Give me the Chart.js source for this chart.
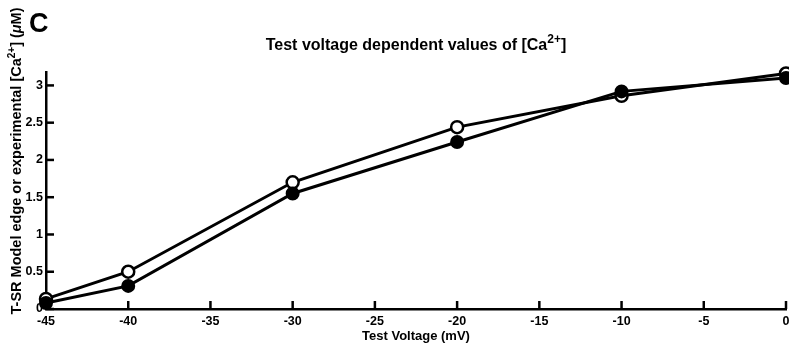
<!DOCTYPE html>
<html>
<head>
<meta charset="utf-8">
<script src="https://cdn.jsdelivr.net/npm/chart.js@4/dist/chart.umd.min.js"></script>
<style>
html,body{margin:0;padding:0;background:#fff;}
#wrap{width:789px;height:346px;position:relative;}
</style>
</head>
<body>
<div id="wrap"><canvas id="c" width="789" height="346"></canvas></div>
<script>
const voltages = [-45, -40, -30, -20, -10, 0];
const modelEdge = [0.08, 0.31, 1.55, 2.24, 2.92, 3.10];      // filled circles
const experimental = [0.135, 0.50, 1.70, 2.44, 2.86, 3.16];  // open circles
const xTicks = [-45, -40, -35, -30, -25, -20, -15, -10, -5, 0];
const yTicks = [0, 0.5, 1, 1.5, 2, 2.5, 3];

const FONT = 'Liberation Sans, Arial, sans-serif';

function fontFor(p, baseSize) {
  const size = p.sup ? Math.round(baseSize * 0.72) : baseSize;
  return (p.italic ? 'italic ' : '') + 'bold ' + size + 'px ' + FONT;
}

function drawSup(ctx, parts, x, y, baseSize) {
  let total = 0;
  const widths = parts.map(p => {
    ctx.font = fontFor(p, baseSize);
    const w = ctx.measureText(p.t).width;
    total += w;
    return w;
  });
  let cx = x - total / 2;
  parts.forEach((p, i) => {
    ctx.font = fontFor(p, baseSize);
    ctx.fillText(p.t, cx, p.sup ? y - baseSize * 0.42 : y);
    cx += widths[i];
  });
}

const decor = {
  id: 'decor',
  afterDraw(chart) {
    const ctx = chart.ctx;
    const xs = chart.scales.x, ys = chart.scales.y;
    ctx.save();
    ctx.strokeStyle = '#000';
    ctx.lineWidth = 2.5;
    ctx.lineCap = 'butt';
    ctx.fillStyle = '#000';
    ctx.font = 'bold 12.5px ' + FONT;
    // inward ticks + labels
    ctx.textBaseline = 'top';
    ctx.textAlign = 'center';
    xTicks.forEach(v => {
      const px = xs.getPixelForValue(v);
      ctx.beginPath(); ctx.moveTo(px, ys.bottom); ctx.lineTo(px, ys.bottom - 8); ctx.stroke();
      ctx.fillText(String(v), px, ys.bottom + 6);
    });
    ctx.textBaseline = 'middle';
    ctx.textAlign = 'right';
    yTicks.forEach(v => {
      const py = ys.getPixelForValue(v);
      ctx.beginPath(); ctx.moveTo(xs.left, py); ctx.lineTo(xs.left + 8, py); ctx.stroke();
      ctx.fillText(String(v), xs.left - 3, py);
    });
    ctx.textBaseline = 'alphabetic';
    ctx.textAlign = 'left';
    // panel letter
    ctx.font = 'bold 27px ' + FONT;
    ctx.fillText('C', 29, 32);
    // title
    drawSup(ctx, [
      {t: 'Test voltage dependent values of [Ca'},
      {t: '2+', sup: true},
      {t: ']'}
    ], 416, 50, 16);
    // x title
    drawSup(ctx, [{t: 'Test Voltage (mV)'}], 416, 340, 13);
    // y title
    ctx.save();
    ctx.translate(21, 161);
    ctx.rotate(-Math.PI / 2);
    drawSup(ctx, [
      {t: 'T-SR Model edge or experimental [Ca'},
      {t: '2+', sup: true},
      {t: '] ('},
      {t: '\u03bc', italic: true},
      {t: 'M)'}
    ], 0, 0, 14.5);
    ctx.restore();
    ctx.restore();
  }
};

new Chart(document.getElementById('c'), {
  type: 'line',
  data: {
    datasets: [
      {
        label: 'T-SR model edge',
        data: voltages.map((v, i) => ({x: v, y: modelEdge[i]})),
        borderColor: '#000', borderWidth: 3,
        pointRadius: 6, pointHoverRadius: 6,
        pointBackgroundColor: '#000', pointBorderColor: '#000', pointBorderWidth: 2,
        tension: 0, clip: false
      },
      {
        label: 'Experimental',
        data: voltages.map((v, i) => ({x: v, y: experimental[i]})),
        borderColor: '#000', borderWidth: 3,
        pointRadius: 6, pointHoverRadius: 6,
        pointBackgroundColor: '#fff', pointBorderColor: '#000', pointBorderWidth: 2.5,
        tension: 0, clip: false
      }
    ]
  },
  options: {
    responsive: false,
    animation: false,
    events: [],
    layout: {autoPadding: false, padding: {top: 72, right: 3, left: 46, bottom: 37}},
    plugins: {legend: {display: false}, title: {display: false}, tooltip: {enabled: false}},
    scales: {
      x: {
        type: 'linear', min: -45, max: 0,
        afterBuildTicks(s) { s.ticks = xTicks.map(v => ({value: v})); },
        grid: {display: false, drawTicks: false},
        border: {display: true, color: '#000', width: 2.5},
        ticks: {display: false}
      },
      y: {
        type: 'linear', min: 0, max: 3.18,
        afterBuildTicks(s) { s.ticks = yTicks.map(v => ({value: v})); },
        grid: {display: false, drawTicks: false},
        border: {display: true, color: '#000', width: 2.5},
        ticks: {display: false}
      }
    }
  },
  plugins: [decor]
});
</script>
</body>
</html>
